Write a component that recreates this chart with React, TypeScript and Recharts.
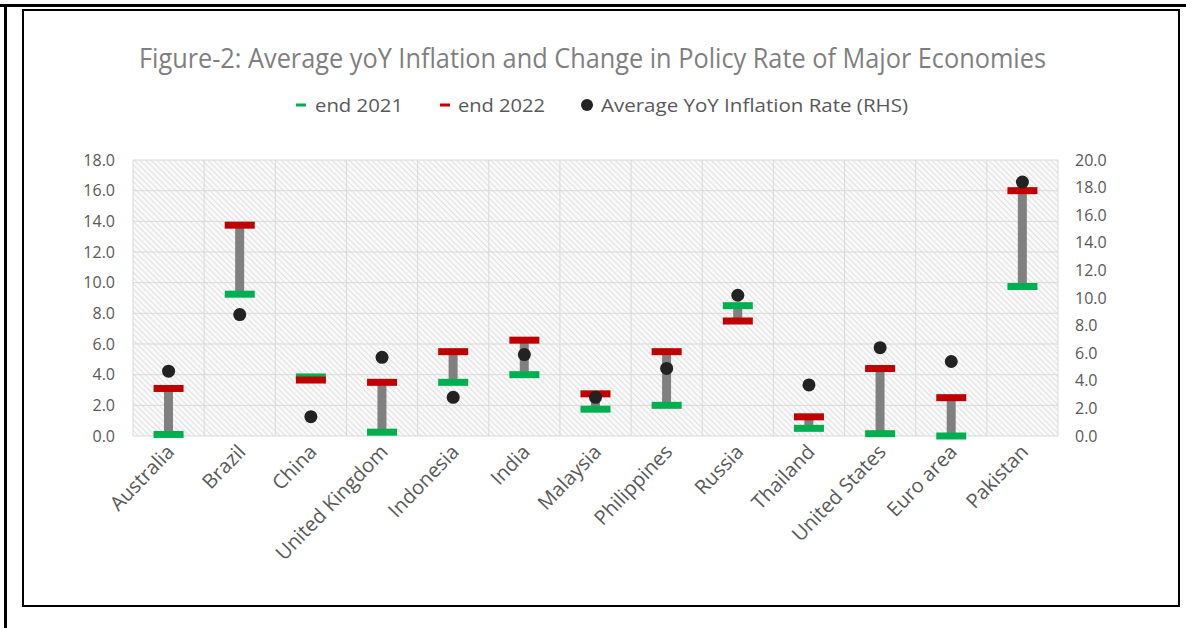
import React from 'react';
import {
  ComposedChart,
  Bar,
  Line,
  XAxis,
  YAxis,
  CartesianGrid,
} from 'recharts';

// Policy rates (LHS) and average yoY inflation (RHS)
const countries = [
  'Australia', 'Brazil', 'China', 'United Kingdom', 'Indonesia', 'India', 'Malaysia',
  'Philippines', 'Russia', 'Thailand', 'United States', 'Euro area', 'Pakistan',
];
const end2021 = [0.1, 9.25, 3.85, 0.25, 3.5, 4.0, 1.75, 2.0, 8.5, 0.5, 0.15, 0.0, 9.75];
const end2022 = [3.1, 13.75, 3.65, 3.5, 5.5, 6.25, 2.75, 5.5, 7.5, 1.25, 4.4, 2.5, 16.0];
const inflation = [4.7, 8.8, 1.4, 5.7, 2.8, 5.9, 2.8, 4.9, 10.2, 3.7, 6.4, 5.4, 18.4];

const leftTicks = [0, 2, 4, 6, 8, 10, 12, 14, 16, 18];
const rightTicks = [0, 2, 4, 6, 8, 10, 12, 14, 16, 18, 20];

const FONT = "'Open Sans', 'Noto Sans', sans-serif";
const GREEN = '#00b050';
const RED = '#c00000';

const chartData = countries.map((name, i) => ({
  name,
  end2021: end2021[i],
  end2022: end2022[i],
  range: [Math.min(end2021[i], end2022[i]), Math.max(end2021[i], end2022[i])],
  inflation: inflation[i],
}));

const marker = (color: string) => (props: any) => {
  const { cx, cy, index } = props;
  if (cx == null || cy == null) return <g key={`m-${color}-${index}`} />;
  return <rect key={`m-${color}-${index}`} x={cx - 15} y={cy - 3.5} width={30} height={7} fill={color} />;
};

const inflationDot = (props: any) => {
  const { cx, cy, index } = props;
  if (cx == null || cy == null) return <g key={`d-${index}`} />;
  return <circle key={`d-${index}`} cx={cx} cy={cy} r={6.5} fill="#222" />;
};

const CountryTick = (props: any) => {
  const { x, y, payload } = props;
  const tx = x + 7;
  const ty = y + 9;
  return (
    <text
      x={tx}
      y={ty}
      transform={`rotate(-46, ${tx}, ${ty})`}
      textAnchor="end"
      fontSize={20}
      fontFamily={FONT}
      fill="#595959"
    >
      {payload.value}
    </text>
  );
};

export default function App() {
  return (
    <div style={{ position: 'absolute', left: 0, top: 0, width: 1186, height: 628, background: '#fff' }}>
      <svg width={0} height={0} style={{ position: 'absolute' }}>
        <defs>
          <pattern id="hatch" patternUnits="userSpaceOnUse" width={4} height={4} patternTransform="rotate(-45)">
            <rect width={4} height={4} fill="#f9f9f9" />
            <line x1={0} y1={0} x2={0} y2={4} stroke="#cfcfcf" strokeWidth={1.2} />
          </pattern>
        </defs>
      </svg>

      {/* frames */}
      <div style={{ position: 'absolute', left: 0, top: 4, width: 1186, height: 3, background: '#000' }} />
      <div style={{ position: 'absolute', left: 4, top: 4, width: 3, height: 624, background: '#000' }} />
      <div
        style={{
          position: 'absolute', left: 22, top: 9, width: 1158, height: 598,
          border: '2px solid #000', boxSizing: 'border-box',
        }}
      />

      {/* title + legend */}
      <svg width={1186} height={140} style={{ position: 'absolute', left: 0, top: 0 }}>
        <text
          x={592.5}
          y={68}
          textAnchor="middle"
          fontSize={28}
          fontFamily={FONT}
          fill="#7f7f7f"
          textLength={907}
          lengthAdjust="spacingAndGlyphs"
        >
          Figure-2: Average yoY Inflation and Change in Policy Rate of Major Economies
        </text>
        <rect x={296} y={103.5} width={10} height={3} fill={GREEN} />
        <text x={315} y={112} fontSize={18} fontFamily={FONT} fill="#595959" textLength={88} lengthAdjust="spacingAndGlyphs">
          end 2021
        </text>
        <rect x={440} y={103.5} width={10} height={3} fill={RED} />
        <text x={458} y={112} fontSize={18} fontFamily={FONT} fill="#595959" textLength={87} lengthAdjust="spacingAndGlyphs">
          end 2022
        </text>
        <circle cx={587} cy={105} r={6} fill="#222" />
        <text x={601} y={112} fontSize={18} fontFamily={FONT} fill="#595959" textLength={307} lengthAdjust="spacingAndGlyphs">
          Average YoY Inflation Rate (RHS)
        </text>
      </svg>

      <div style={{ position: 'absolute', left: 23, top: 10 }}>
        <ComposedChart
          width={1156}
          height={596}
          data={chartData}
          margin={{ top: 150, right: 51, bottom: 0, left: 0 }}
          barCategoryGap={0}
        >
          <CartesianGrid
            yAxisId="left"
            stroke="#d9d9d9"
            fill="url(#hatch)"
            fillOpacity={1}
            verticalCoordinatesGenerator={({ offset }: any) =>
              Array.from({ length: countries.length + 1 }, (_, i) => offset.left + (i * offset.width) / countries.length)
            }
          />
          <XAxis
            dataKey="name"
            height={170}
            axisLine={false}
            tickLine={false}
            interval={0}
            tick={<CountryTick />}
          />
          <YAxis
            yAxisId="left"
            orientation="left"
            width={110}
            domain={[0, 18]}
            ticks={leftTicks}
            axisLine={false}
            tickLine={false}
            tickMargin={12}
            tickFormatter={(v: number) => v.toFixed(1)}
            tick={{ fontSize: 16, fontFamily: FONT, fill: '#595959' }}
          />
          <YAxis
            yAxisId="right"
            orientation="right"
            width={70}
            domain={[0, 20]}
            ticks={rightTicks}
            axisLine={false}
            tickLine={false}
            tickMargin={11}
            tickFormatter={(v: number) => v.toFixed(1)}
            tick={{ fontSize: 16, fontFamily: FONT, fill: '#595959', textAnchor: 'start' }}
          />
          <Bar yAxisId="left" dataKey="range" fill="#808080" barSize={9} isAnimationActive={false} />
          <Line
            yAxisId="left"
            dataKey="end2021"
            stroke="none"
            dot={marker(GREEN)}
            activeDot={false}
            isAnimationActive={false}
          />
          <Line
            yAxisId="left"
            dataKey="end2022"
            stroke="none"
            dot={marker(RED)}
            activeDot={false}
            isAnimationActive={false}
          />
          <Line
            yAxisId="right"
            dataKey="inflation"
            stroke="none"
            dot={inflationDot}
            activeDot={false}
            isAnimationActive={false}
          />
        </ComposedChart>
      </div>
    </div>
  );
}
